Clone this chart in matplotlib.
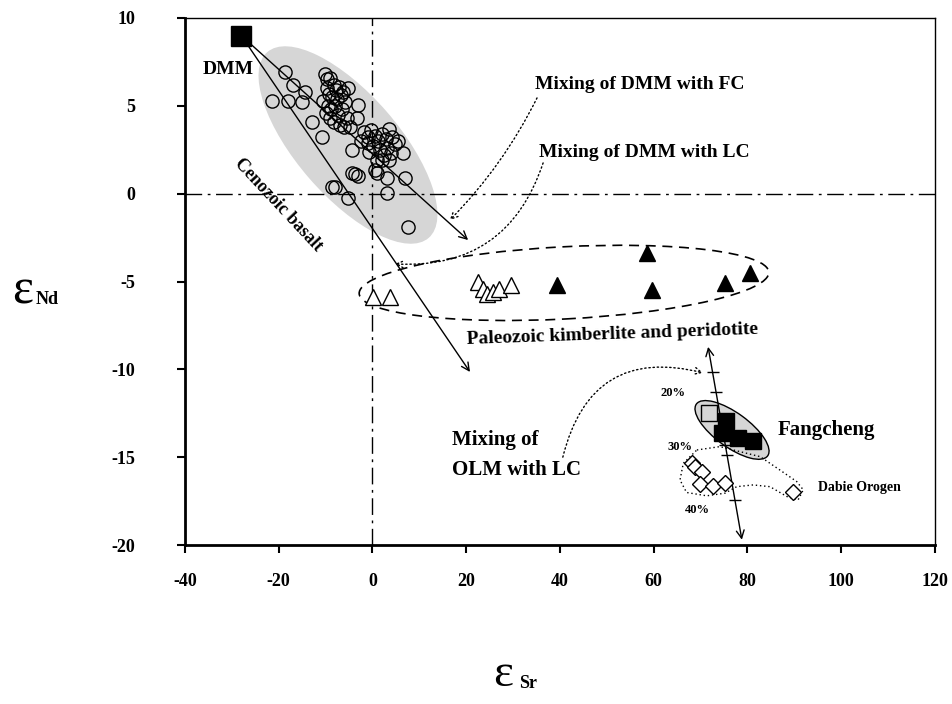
import numpy as np
import matplotlib.pyplot as plt
from matplotlib.patches import Ellipse
from matplotlib.transforms import Affine2D

plt.rcParams['font.family'] = ['Liberation Serif', 'DejaVu Serif']
plt.rcParams['font.weight'] = 'bold'
plt.rcParams['axes.unicode_minus'] = False

# ---- data (eSr, eNd) ----
dmm = (-28, 9)

cenozoic_x = [-18.7, -17.0, -14.4, -18.0, -15.0, -21.4, -12.9, -10.8, -3.1, -3.3, -4.8,
              -4.4, -1.0, 1.0, -4.4, -3.7, -3.1, 0.5, 3.1, 6.9, 6.5, -8.6, -8.0, 3.1,
              7.6, -5.2, 1.0,
              -10.2, -9.6, -9.0, -8.3, -9.8, -9.2, -8.6, -7.8, -7.2, -10.5, -9.5, -8.8,
              -8.0, -7.5, -6.8, -6.2, -9.0, -8.2, -7.4, -6.5, -5.8, -5.2, -5.5, -7.0,
              -10.0, -6.0,
              -1.8, -1.0, -0.3, 0.5, 1.2, 2.0, 2.8, 3.5, 4.2, 4.8, 0.2, 1.5, 2.5, 3.2,
              4.0, -0.8, 2.0, 3.6, 5.5, -2.5]
cenozoic_y = [6.9, 6.2, 5.8, 5.3, 5.2, 5.3, 4.1, 3.2, 5.05, 4.3, 3.8,
              2.5, 2.9, 1.9, 1.2, 1.1, 1.0, 1.35, 0.9, 0.9, 2.3, 0.4, 0.38, 0.04,
              -1.9, -0.25, 1.2,
              6.8, 6.5, 6.6, 6.2, 6.0, 5.7, 5.5, 5.9, 6.1, 5.3, 5.0, 4.8,
              5.0, 5.4, 5.6, 5.8, 4.3, 4.1, 4.5, 4.8, 5.2, 6.0, 4.3, 3.9,
              4.6, 3.8,
              3.5, 3.2, 3.6, 3.3, 3.0, 3.4, 3.1, 3.7, 3.2, 2.8, 2.7, 2.5, 2.2, 2.6,
              2.3, 2.4, 1.9, 1.9, 3.0, 3.0]

kimb_open_x = [0.1, 3.7, 22.5, 23.5, 24.5, 25.8, 27.0, 29.5]
kimb_open_y = [-5.9, -5.9, -5.0, -5.4, -5.7, -5.6, -5.4, -5.2]
kimb_fill_x = [39.4, 58.6, 59.6, 75.2, 80.5]
kimb_fill_y = [-5.2, -3.4, -5.5, -5.1, -4.5]

fang_fill_x = [75.4, 74.6, 78.0, 81.2]
fang_fill_y = [-12.94, -13.62, -13.9, -14.07]
fang_open_x = [71.8]
fang_open_y = [-12.48]

dabie_x = [68.1, 68.8, 70.2, 69.9, 72.7, 75.2, 89.8]
dabie_y = [-15.35, -15.54, -15.82, -16.52, -16.64, -16.45, -16.96]

dabie_loop_x = [69.2, 74.1, 82.7, 86.9, 90.5, 91.9, 90.8, 88.4, 84.8, 81.2, 77.7,
                75.2, 71.3, 67.0, 65.6, 66.3, 69.2]
dabie_loop_y = [-14.59, -14.4, -14.97, -15.73, -16.39, -16.86, -17.43, -17.24, -16.68,
                -16.58, -16.68, -17.05, -17.2, -17.01, -16.3, -15.35, -14.59]

# OLM-LC mixing line and its % marks
olm_top = (71.6, -8.72)
olm_bot = (78.8, -19.7)
olm_mark_y = [-10.15, -11.29, -14.3, -14.87, -17.43]

fig = plt.figure(figsize=(9.53, 7.04), dpi=100)
ax = fig.add_axes([185 / 953, 1 - 545 / 704, 750 / 953, 527 / 704])
ax.set_xlim(-40, 120)
ax.set_ylim(-20, 10)

# transform where shapes are isotropic in pixels (y stretched)
r = (527 / 30) / (750 / 160)
iso = Affine2D().scale(1, 1 / r) + ax.transData

# reference lines
ax.axhline(0, color='black', lw=1, ls=(0, (12, 4, 2, 4)), zorder=1)
ax.axvline(0, color='black', lw=1, ls=(0, (12, 4, 2, 4)), zorder=1)

# field outlines
ax.add_patch(Ellipse((-5.23, 2.77 * r), 52.5, 21.8, angle=-49, transform=iso,
                     facecolor='#d6d6d6', edgecolor='none', zorder=0))
ax.add_patch(Ellipse((40.85, -5.08 * r), 87.5, 15.4, angle=3, transform=iso,
                     facecolor='none', edgecolor='black', lw=1.2,
                     ls=(0, (6, 4)), zorder=2))
ax.add_patch(Ellipse((76.7, -13.45 * r), 18.8, 7.3, angle=-36, transform=iso,
                     facecolor='#d6d6d6', edgecolor='black', lw=1, zorder=2))
ax.plot(dabie_loop_x, dabie_loop_y, color='black', lw=1, ls=(0, (1, 2)), zorder=2)

# DMM mixing lines
arrow = dict(arrowstyle='->', color='black', lw=1, shrinkA=0, shrinkB=0,
             mutation_scale=14)
ax.annotate('', xy=(20.4, -2.64), xytext=dmm, arrowprops=arrow, zorder=3)
ax.annotate('', xy=(20.8, -10.15), xytext=dmm, arrowprops=arrow, zorder=3)

# OLM line
ax.annotate('', xy=olm_bot, xytext=olm_top,
            arrowprops=dict(arrowstyle='<->', color='black', lw=1, shrinkA=0,
                            shrinkB=0, mutation_scale=14))
mark_x = np.interp(olm_mark_y, [olm_bot[1], olm_top[1]], [olm_bot[0], olm_top[0]])
ax.plot(mark_x, olm_mark_y, ls='none', marker='_', ms=9, mew=1, color='black')

# dotted pointers
dot = dict(arrowstyle='->', color='black', lw=1, ls=(0, (1, 2)), shrinkA=0,
           shrinkB=0, mutation_scale=12)
ax.annotate('', xy=(16.5, -1.5), xytext=(35.1, 5.45),
            arrowprops=dict(dot, connectionstyle='arc3,rad=-0.08'))
ax.annotate('', xy=(4.8, -4.0), xytext=(36.4, 1.75),
            arrowprops=dict(dot, connectionstyle='arc3,rad=-0.38'))
ax.annotate('', xy=(70.5, -10.2), xytext=(40.6, -15.0),
            arrowprops=dict(dot, connectionstyle='arc3,rad=-0.5'))

# points
ax.plot(cenozoic_x, cenozoic_y, ls='none', marker='o', ms=9.5, mfc='none',
        mec='black', mew=1, zorder=4)
ax.plot(kimb_open_x, kimb_open_y, ls='none', marker='^', ms=12, mfc='white',
        mec='black', mew=1, zorder=4)
ax.plot(kimb_fill_x, kimb_fill_y, ls='none', marker='^', ms=12, color='black', zorder=4)
ax.plot(fang_fill_x, fang_fill_y, ls='none', marker='s', ms=12, color='black', zorder=4)
ax.plot(fang_open_x, fang_open_y, ls='none', marker='s', ms=11, mfc='none',
        mec='black', mew=1, zorder=4)
ax.plot(dabie_x, dabie_y, ls='none', marker='D', ms=8, mfc='white', mec='black',
        mew=1, zorder=4)
ax.plot(*dmm, marker='s', ms=15, color='black', zorder=5)

# labels
ax.text(-36.2, 7.04, 'DMM', fontsize=14, va='center', ha='left')
ax.text(34.7, 6.19, 'Mixing of DMM with FC', fontsize=14, va='center', ha='left')
ax.text(35.5, 2.37, 'Mixing of DMM with LC', fontsize=14, va='center', ha='left')
ax.text(-20.16, -0.64, 'Cenozoic basalt', fontsize=13, rotation=-47,
        rotation_mode='anchor', ha='center', va='center')
ax.text(51.1, -8.04, 'Paleozoic kimberlite and peridotite', fontsize=14, rotation=2,
        rotation_mode='anchor', ha='center', va='center')
ax.text(86.5, -13.45, 'Fangcheng', fontsize=15, va='center', ha='left')
ax.text(17.0, -14.02, 'Mixing of', fontsize=15, va='center', ha='left')
ax.text(17.0, -15.73, 'OLM with LC', fontsize=15, va='center', ha='left')
ax.text(95.0, -16.7, 'Dabie Orogen', fontsize=10, va='center', ha='left')
ax.text(64.1, -11.34, '20%', fontsize=9, va='center', ha='center')
ax.text(65.6, -14.42, '30%', fontsize=9, va='center', ha='center')
ax.text(69.4, -18.0, '40%', fontsize=9, va='center', ha='center')

# axes styling
for side in ['left', 'bottom']:
    ax.spines[side].set_linewidth(2)
for side in ['top', 'right']:
    ax.spines[side].set_linewidth(1)
ax.set_xticks(np.arange(-40, 121, 20))
ax.set_yticks(np.arange(-20, 11, 5))
ax.tick_params(direction='out', length=6, width=1.5, labelsize=13)
ax.tick_params(axis='y', pad=30)
ax.tick_params(axis='x', pad=14)

fig.text(12 / 953, 1 - 303 / 704, 'ε', fontsize=36, fontweight='normal',
         va='baseline', ha='left')
fig.text(36 / 953, 1 - 304 / 704, 'Nd', fontsize=13, va='baseline', ha='left')
fig.text(493 / 953, 1 - 686 / 704, 'ε', fontsize=34, fontweight='normal',
         va='baseline', ha='left')
fig.text(519 / 953, 1 - 688 / 704, 'Sr', fontsize=13, va='baseline', ha='left')

fig.savefig('out.png', dpi=100)
